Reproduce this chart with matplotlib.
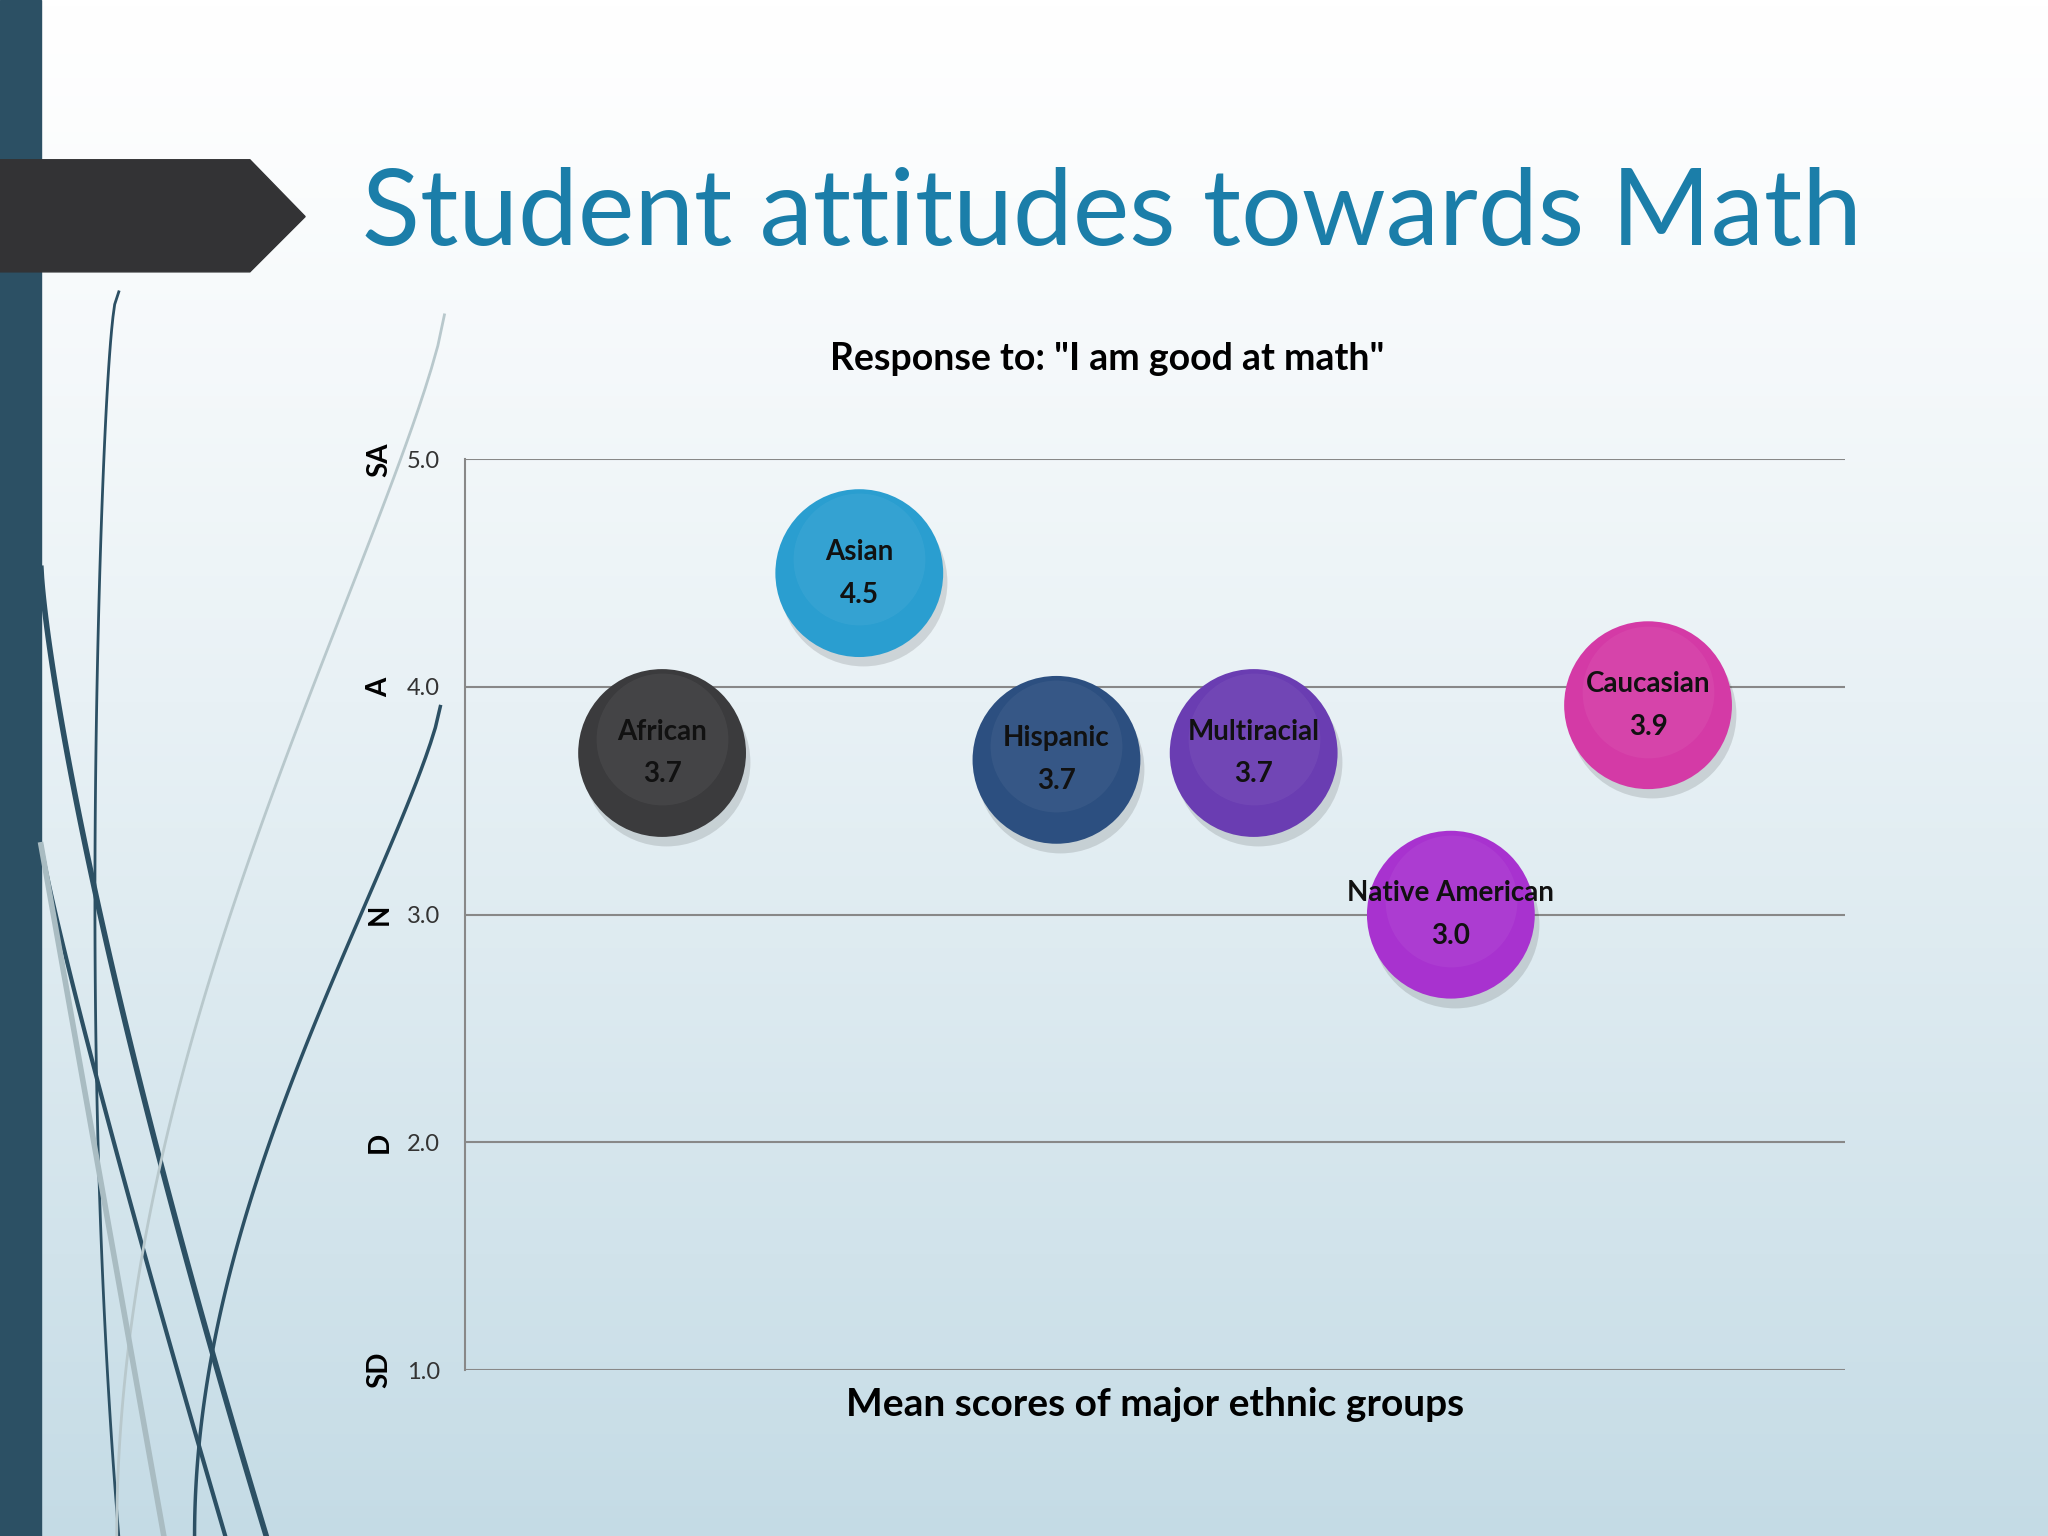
import matplotlib.pyplot as plt
import numpy as np
from matplotlib.patches import Polygon, Rectangle

plt.rcParams['font.family'] = ['Lato', 'DejaVu Sans']

groups = ['African', 'Asian', 'Hispanic', 'Multiracial', 'Native American', 'Caucasian']
scores = [3.7, 4.5, 3.7, 3.7, 3.0, 3.9]
plot_y = [3.71, 4.50, 3.68, 3.71, 3.00, 3.92]
colors = ['#3b3b3d', '#2a9ed0', '#2c4f80', '#6a3db2', '#a832cf', '#d43aa6']
yticks = [1.0, 2.0, 3.0, 4.0, 5.0]
ylabels = ['SD', 'D', 'N', 'A', 'SA']

fig = plt.figure(figsize=(20.48, 15.36), dpi=100)

# background gradient
bg = fig.add_axes([0, 0, 1, 1], zorder=-10)
grad = np.linspace(0, 1, 256).reshape(-1, 1)
top = np.array([1.0, 1.0, 1.0])
bot = np.array([0.77, 0.86, 0.90])
img = top + (bot - top) * grad[:, :, None] ** 1.2
bg.imshow(img, aspect='auto', extent=[0, 1, 0, 1], origin='upper')
bg.set_xlim(0, 1)
bg.set_ylim(0, 1)
bg.axis('off')
bg.add_patch(Rectangle((0, 0), 0.02, 1, color='#2c5064'))
bg.add_patch(Polygon([[0, 0.896], [0.122, 0.896], [0.149, 0.859], [0.122, 0.823], [0, 0.823]],
                     color='#333335'))
# decorative curves
t = np.linspace(0, 1, 100)
bg.plot(0.058 - 0.02 * t ** 0.5 + 0.02 * t ** 3, 0.81 - 0.81 * t, color='#2c5064', lw=2)
bg.plot(0.02 + 0.11 * t ** 1.3, 0.63 - 0.63 * t, color='#2c5064', lw=4)
bg.plot(0.02 + 0.09 * t ** 1.1, 0.45 - 0.45 * t, color='#2c5064', lw=3)
bg.plot(0.215 - 0.12 * (1 - (1 - t) ** 2), 0.54 - 0.54 * t ** 0.8, color='#2c5064', lw=2.5)
bg.plot(0.217 - 0.16 * (1 - (1 - t) ** 2), 0.795 - 0.795 * t ** 0.8, color='#b8c8cc', lw=2)
bg.plot(0.02 + 0.06 * t, 0.45 - 0.45 * t, color='#a9bcc2', lw=4)

fig.text(0.177, 0.86, 'Student attitudes towards Math', fontsize=77, color='#1b7ea9',
         va='center', ha='left')

ax = fig.add_axes([0.227, 0.108, 0.674, 0.593])
ax.patch.set_alpha(0)
x = np.arange(1, len(groups) + 1)
ax.set_xlim(0, 7)
ax.set_ylim(1, 5)
ax.set_yticks(yticks)
ax.set_yticklabels([f'{v:.1f}' for v in yticks], fontsize=17, color='#333333')
ax.tick_params(axis='y', length=0, pad=18)
ax.set_xticks([])
for v in yticks:
    ax.axhline(v, color='#888888', lw=1.5, zorder=1)
for s in ['top', 'right']:
    ax.spines[s].set_visible(False)
ax.spines['bottom'].set_visible(False)
ax.spines['left'].set_color('#888888')
ax.spines['left'].set_linewidth(1.5)

# shadow, bubble, highlight
ax.scatter(x + 0.02, np.array(plot_y) - 0.04, s=14600, color='#000000', alpha=0.12, zorder=2, lw=0)
ax.scatter(x, plot_y, s=14600, c=colors, zorder=3, lw=0)
ax.scatter(x, np.array(plot_y) + 0.06, s=9000, color='white', alpha=0.05, zorder=4, lw=0)
for xi, yi, g, sc in zip(x, plot_y, groups, scores):
    ax.annotate(f'{g}\n{sc:.1f}', (xi, yi), xytext=(0, 0), textcoords='offset points',
                ha='center', va='center', fontsize=20, fontweight='bold',
                color='#111111', linespacing=1.8, zorder=5)

for v, lab in zip(yticks, ylabels):
    ax.text(-0.062, v, lab, transform=ax.get_yaxis_transform(), rotation=90,
            ha='center', va='center', fontsize=20, fontweight='bold')

ax.text(0.465, 1.11, 'Response to: "I am good at math"', transform=ax.transAxes,
        fontsize=27, fontweight='bold', ha='center', va='center')
ax.set_xlabel('Mean scores of major ethnic groups', fontsize=28, fontweight='bold', labelpad=12)

fig.savefig('out.png', dpi=100)
